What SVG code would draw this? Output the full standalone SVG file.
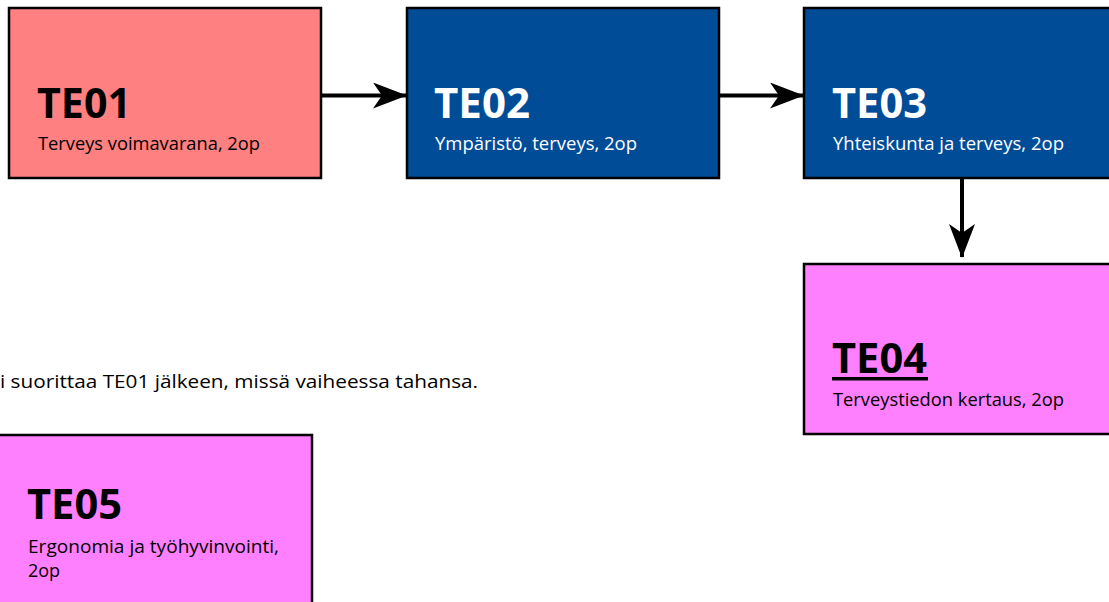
<svg xmlns="http://www.w3.org/2000/svg" width="1109" height="602" viewBox="0 0 1109 602">
<style>
.box{stroke:#000;stroke-width:2.5}
.red{fill:#FF8080}
.blue{fill:#004C97}
.pink{fill:#FF80FF}
.t{font-family:"Open Sans","Liberation Sans",sans-serif;font-weight:bold;font-size:42px}
.s{font-family:"Open Sans","Liberation Sans",sans-serif;font-size:18px}
.w{fill:#fff}
.k{fill:#000}
.conn{stroke:#000;stroke-width:4;fill:none}
</style>
<defs>
<marker id="arr" markerUnits="userSpaceOnUse" viewBox="0 0 34 26" markerWidth="34" markerHeight="26" refX="33" refY="13" orient="auto">
<path d="M0,0 L34,13 L0,26 L9,13 Z" fill="#000"/>
</marker>
</defs>
<rect width="1109" height="602" fill="#fff"/>
<g id="connectors">
<line class="conn" x1="322" y1="95.5" x2="406" y2="95.5" marker-end="url(#arr)"/>
<line class="conn" x1="719" y1="95.5" x2="803" y2="95.5" marker-end="url(#arr)"/>
<line class="conn" x1="962" y1="179" x2="962" y2="257" marker-end="url(#arr)"/>
</g>
<g id="TE01">
<rect class="box red" x="9" y="8" width="312" height="170"/>
<text class="t k" x="37" y="118" textLength="94" lengthAdjust="spacingAndGlyphs">TE01</text>
<text class="s k" x="38" y="150" textLength="222" lengthAdjust="spacingAndGlyphs">Terveys voimavarana, 2op</text>
</g>
<g id="TE02">
<rect class="box blue" x="407" y="8" width="312" height="170"/>
<text class="t w" x="434" y="118" textLength="96" lengthAdjust="spacingAndGlyphs">TE02</text>
<text class="s w" x="435" y="150" textLength="202" lengthAdjust="spacingAndGlyphs">Ympäristö, terveys, 2op</text>
</g>
<g id="TE03">
<rect class="box blue" x="804" y="8" width="312" height="170"/>
<text class="t w" x="832" y="118" textLength="95" lengthAdjust="spacingAndGlyphs">TE03</text>
<text class="s w" x="833" y="150" textLength="231" lengthAdjust="spacingAndGlyphs">Yhteiskunta ja terveys, 2op</text>
</g>
<g id="TE04">
<rect class="box pink" x="804" y="264" width="312" height="170"/>
<text class="t k" x="832" y="373" textLength="95" lengthAdjust="spacingAndGlyphs">TE04</text>
<rect x="832" y="377" width="96" height="3.5" fill="#000"/>
<text class="s k" x="833" y="406" textLength="231" lengthAdjust="spacingAndGlyphs">Terveystiedon kertaus, 2op</text>
</g>
<g id="note">
<text class="s k" x="0" y="388" style="font-size:19px" textLength="478" lengthAdjust="spacingAndGlyphs">i suorittaa TE01 jälkeen, missä vaiheessa tahansa.</text>
</g>
<g id="TE05">
<rect class="box pink" x="-4" y="435" width="316" height="180"/>
<text class="t k" x="27" y="519" textLength="95" lengthAdjust="spacingAndGlyphs">TE05</text>
<text class="s k" x="28" y="553" textLength="251" lengthAdjust="spacingAndGlyphs">Ergonomia ja työhyvinvointi,</text>
<text class="s k" x="28" y="577">2op</text>
</g>
</svg>
